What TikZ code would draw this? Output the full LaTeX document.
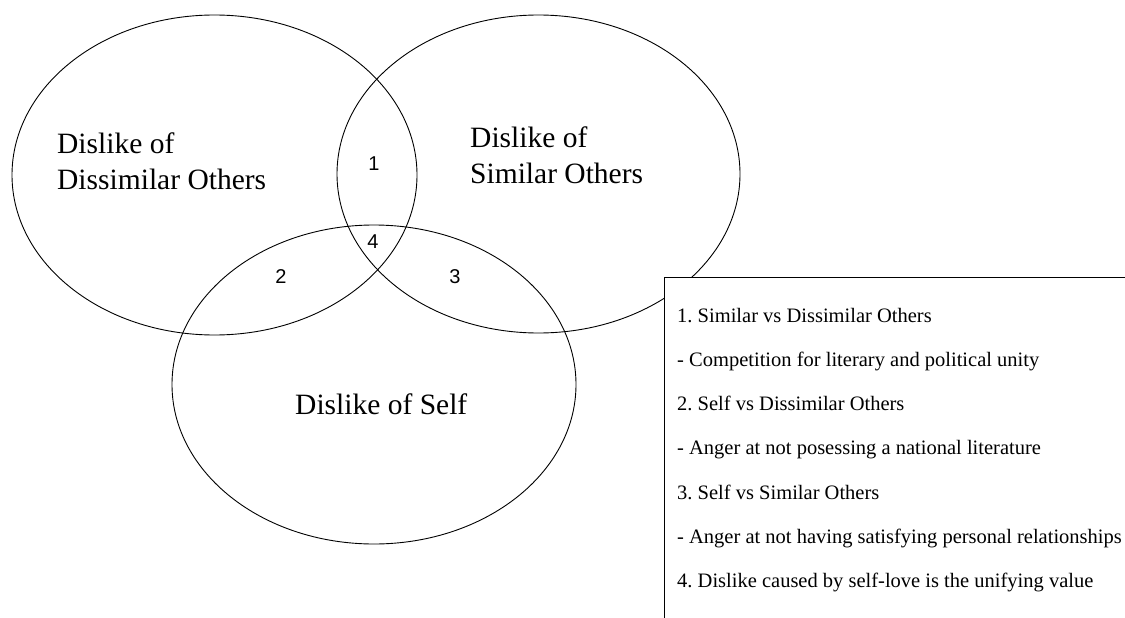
\documentclass[tikz,border=0pt]{standalone}
\usepackage{fontspec}
\setmainfont{Liberation Serif}
\newfontfamily\numfont{Liberation Sans}
\usetikzlibrary{shapes.geometric}
\frenchspacing
\tikzset{
  setcircle/.style={draw=black, line width=0.9pt, ellipse, inner sep=0pt, fill=none},
  heading/.style={anchor=base west, inner sep=0pt, font=\fontsize{29.5}{36}\selectfont},
  regnum/.style={anchor=center, inner sep=0pt, font=\numfont\fontsize{20}{24}\selectfont},
  legendline/.style={anchor=base west, inner sep=0pt, font=\fontsize{20.5}{24}\selectfont},
  legendbox/.style={draw=black, line width=0.9pt, fill=white}
}
\begin{document}
\begin{tikzpicture}[x=1pt,y=1pt]
\useasboundingbox (0,0) rectangle (1125,-618);
\clip (0,0) rectangle (1125,-618);
\fill[white] (0,0) rectangle (1125,-618);
% sets
\node[setcircle, minimum width=405pt, minimum height=320pt] (dissim) at (214.5,-175) {};
\node[setcircle, minimum width=403pt, minimum height=318pt] (sim) at (538.5,-174) {};
\node[setcircle, minimum width=404pt, minimum height=319pt] (self) at (374,-384.5) {};
% set labels
\node[heading] (dissimA) at (57,-153) {Dislike of};
\node[heading] (dissimB) at (57,-189) {Dissimilar Others};
\node[heading] (simA) at (470,-147) {Dislike of};
\node[heading] (simB) at (470,-183) {Similar Others};
\node[heading] (selfA) at (295,-414) {Dislike of Self};
% region numbers
\node[regnum] (r1) at (374,-164) {1};
\node[regnum] (r2) at (281,-277) {2};
\node[regnum] (r3) at (455,-277) {3};
\node[regnum] (r4) at (373,-242) {4};
% legend box
\draw[legendbox] (664,-277) rectangle (1140,-640);
\node[legendline] (l1) at (677,-322) {1. Similar vs Dissimilar Others};
\node[legendline] (l2) at (677,-366.3) {- Competition for literary and political unity};
\node[legendline] (l3) at (677,-410.6) {2. Self vs Dissimilar Others};
\node[legendline] (l4) at (677,-454.9) {- Anger at not posessing a national literature};
\node[legendline] (l5) at (677,-499.2) {3. Self vs Similar Others};
\node[legendline] (l6) at (677,-543.5) {- Anger at not having satisfying personal relationships};
\node[legendline] (l7) at (677,-587.8) {4. Dislike caused by self-love is the unifying value};
\end{tikzpicture}
\end{document}
